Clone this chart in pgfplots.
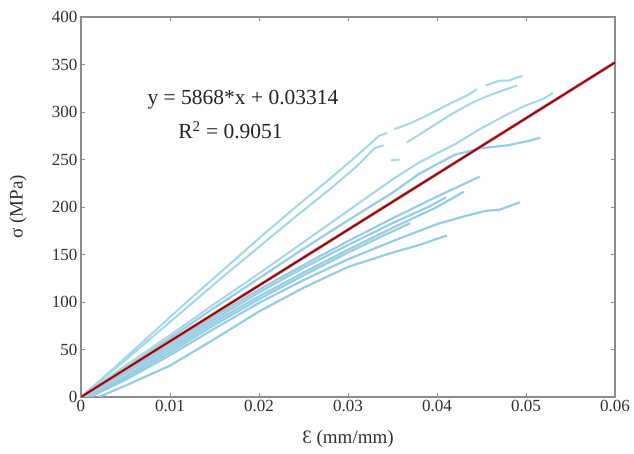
\documentclass[border=0pt]{standalone}
\usepackage{pgfplots}
\pgfplotsset{compat=1.18}
\usepackage{fontspec}
\setmainfont{Liberation Serif}
\definecolor{lb}{RGB}{165,215,228}
\definecolor{lb2}{RGB}{152,206,226}
\definecolor{fitc}{RGB}{125,15,25}
\definecolor{axc}{RGB}{140,140,140}
\definecolor{txc}{RGB}{50,50,50}
\begin{document}
\begin{tikzpicture}
\begin{axis}[
  scale only axis, width=534pt, height=380pt,
  xmin=0, xmax=0.06, ymin=0, ymax=400,
  xtick={0,0.01,0.02,0.03,0.04,0.05,0.06},
  xticklabels={0,0.01,0.02,0.03,0.04,0.05,0.06},
  scaled x ticks=false,
  ytick={0,50,...,400},
  /pgf/number format/assume math mode=true,
  tick align=inside, major tick length=4pt,
  tick style={axc, line width=0.8pt},
  axis line style={axc, line width=1.1pt},
  ticklabel style={font=\fontsize{17}{17}\selectfont, text=txc},
  every axis y label/.style={at={(axis description cs:0,0.5)}, xshift=-63pt, rotate=90, anchor=center},
  every axis x label/.style={at={(axis description cs:0.5,0)}, yshift=-42pt, anchor=center},
  label style={font=\fontsize{19}{19}\selectfont, text=txc},
  xlabel={Ɛ (mm/mm)}, ylabel={σ (MPa)},
  clip=true,
]
% steep group
\addplot[lb, line width=2pt] coordinates {(0,0)(0.004,33)(0.008,67)(0.012,101)(0.016,134)(0.02,167)(0.024,199)(0.028,230)(0.031,254)(0.0335,275)(0.0344,278)};
\addplot[lb, line width=2pt] coordinates {(0.0352,282)(0.037,288)(0.039,297)(0.0415,309)(0.0435,318)(0.0445,324)};
\addplot[lb, line width=2pt] coordinates {(0.0455,328)(0.047,333)(0.048,333)(0.0496,338)};
\addplot[lb, line width=2pt] coordinates {(0,0)(0.004,31)(0.008,63)(0.012,95)(0.016,127)(0.02,158)(0.024,189)(0.028,219)(0.031,243)(0.033,262)(0.034,265)};
\addplot[lb, line width=2pt] coordinates {(0.0348,249)(0.0358,250)};
\addplot[lb, line width=2pt] coordinates {(0.0366,268)(0.039,282)(0.0415,297)(0.044,310)(0.046,318)(0.049,328)};
% middle group
\addplot[lb, line width=2pt] coordinates {(0,0)(0.005,33)(0.01,65)(0.015,98)(0.02,130)(0.025,163)(0.03,196)(0.035,229)(0.038,247)(0.042,266)(0.045,283)(0.048,298)(0.05,307)(0.052,314)(0.053,320)};
\addplot[lb2, line width=2.2pt] coordinates {(0,0)(0.005,30)(0.01,62)(0.015,94)(0.02,125)(0.025,156)(0.03,186)(0.035,215)(0.038,235)(0.042,255)(0.045,262)(0.048,265)(0.0505,270)(0.0516,273)};
% lower bundle
\addplot[lb2, line width=2.2pt] coordinates {(0,0)(0.005,27)(0.01,56)(0.015,85)(0.02,113)(0.025,139)(0.03,164)(0.035,188)(0.04,211)(0.0448,232)};
\addplot[lb2, line width=2.2pt] coordinates {(0.0005,0)(0.005,22)(0.01,50)(0.015,79)(0.02,106)(0.025,131)(0.03,155)(0.035,178)(0.04,200)(0.043,216)};
\addplot[lb2, line width=2.2pt] coordinates {(0.001,0)(0.005,18)(0.01,44)(0.015,72)(0.02,99)(0.025,123)(0.03,145)(0.035,164)(0.04,182)(0.043,190)(0.0455,196)(0.047,197)(0.0493,205)};
\addplot[lb2, line width=2.2pt] coordinates {(0.002,0)(0.005,12)(0.01,33)(0.015,61)(0.02,90)(0.025,115)(0.03,137)(0.035,152)(0.038,160)(0.0411,170)};
\addplot[lb2, line width=2.2pt] coordinates {(0.001,0)(0.005,20)(0.01,47)(0.015,76)(0.02,103)(0.025,128)(0.03,152)(0.034,170)(0.037,183)};
\addplot[lb2, line width=2.2pt] coordinates {(0,0)(0.005,25)(0.01,53)(0.015,82)(0.02,110)(0.025,136)(0.03,160)(0.035,183)(0.039,200)(0.041,210)};
% fit line
\addplot[red!45, line width=3.2pt] coordinates {(0,0.03314)(0.06,352.11)};
\addplot[fitc, line width=1.9pt] coordinates {(0,0.03314)(0.06,352.11)};
\node[font=\fontsize{21.5}{21.5}\selectfont, text=black!85] at (axis cs:0.0182,313) {y = 5868*x + 0.03314};
\node[font=\fontsize{21.5}{21.5}\selectfont, text=black!85] at (axis cs:0.0168,281) {R\textsuperscript{2} = 0.9051};
\end{axis}
\pgfresetboundingbox
\path[use as bounding box] ([xshift=-81pt,yshift=-57pt]current axis.south west) rectangle ([xshift=19pt,yshift=17pt]current axis.north east);
\end{tikzpicture}
\end{document}
